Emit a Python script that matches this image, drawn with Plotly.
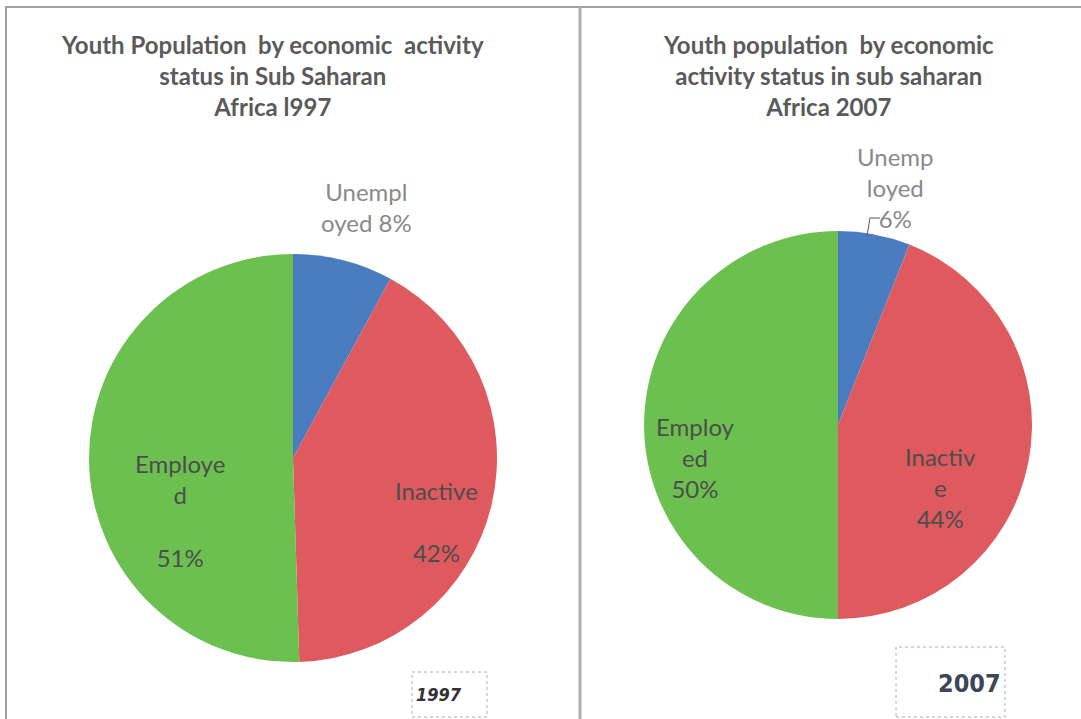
import plotly.graph_objects as go

# ---------------- data ----------------
categories = ["Unemployed", "Inactive", "Employed"]
values_1997 = [8, 42, 51]
values_2007 = [6, 44, 50]
# label text as wrapped in the original chart (percent appended from values)
wrap_1997 = [["Unempl", "oyed {p}%"], ["Inactive", "", "{p}%"], ["Employe", "d", "", "{p}%"]]
wrap_2007 = [["Unemp", "loyed", "{p}%"], ["Inactiv", "e", "{p}%"], ["Employ", "ed", "{p}%"]]
title_1997 = "Youth Population  by economic  activity<br>status in Sub Saharan<br>Africa l997"
title_2007 = "Youth population  by economic<br>activity status in sub saharan<br>Africa 2007"
year_tags = ["1997", "2007"]

colors = ["#4a7cc0", "#df5a5f", "#6cc050"]

W, H = 1081, 719


def px(x, y):
    return x / W, 1 - y / H


def label_text(parts, v):
    return "<br>".join(s.format(p=v) for s in parts)


fig = go.Figure()

fig.add_trace(go.Pie(
    labels=categories, values=values_1997, sort=False, direction="clockwise",
    rotation=0, textinfo="none", marker=dict(colors=colors, line=dict(width=0)),
    domain=dict(x=[89 / W, 497 / W], y=[1 - 662 / H, 1 - 254 / H]),
    showlegend=False, name="1997"))

fig.add_trace(go.Pie(
    labels=categories, values=values_2007, sort=False, direction="clockwise",
    rotation=0, textinfo="none", marker=dict(colors=colors, line=dict(width=0)),
    domain=dict(x=[644 / W, 1032 / W], y=[1 - 619 / H, 1 - 231 / H]),
    showlegend=False, name="2007"))

font_family = "Lato, 'Open Sans', sans-serif"
narrow = "'DejaVu Sans Condensed', 'Liberation Sans Narrow', 'Roboto Condensed', Roboto, sans-serif"
ann = []

# titles
for txt, (cx, cy) in [(title_1997, (272, 76)), (title_2007, (828, 76))]:
    x, y = px(cx, cy)
    ann.append(dict(x=x, y=y, xref="paper", yref="paper", text="<b>" + txt + "</b>",
                    showarrow=False, xanchor="center", yanchor="middle",
                    font=dict(family=font_family, size=24, color="#5a5a5a")))

# slice labels
label_pos_1997 = [(366, 207), (437, 521), (180, 510)]
label_pos_2007 = [(895, 187), (940, 487), (695, 457)]
for wraps, vals, poss in [(wrap_1997, values_1997, label_pos_1997),
                          (wrap_2007, values_2007, label_pos_2007)]:
    for i, (parts, v, (cx, cy)) in enumerate(zip(wraps, vals, poss)):
        x, y = px(cx, cy)
        col = "#8a8a8a" if i == 0 else "#4d4d4d"
        ann.append(dict(x=x, y=y, xref="paper", yref="paper", text=label_text(parts, v),
                        showarrow=False, xanchor="center", yanchor="middle", align="center",
                        font=dict(family=font_family, size=24, color=col)))

# year tags in small boxes
x, y = px(414, 694)
ann.append(dict(x=x, y=y, xref="paper", yref="paper", text="<b><i>" + year_tags[0] + "</i></b>",
                showarrow=False, xanchor="left", yanchor="middle",
                font=dict(family=narrow, size=18, color="#333333")))
x, y = px(1003, 683)
ann.append(dict(x=x, y=y, xref="paper", yref="paper", text="<b>" + year_tags[1] + "</b>",
                showarrow=False, xanchor="right", yanchor="middle",
                font=dict(family=narrow, size=25, color="#3b4656")))

shapes = []
border = dict(color="#a0a0a0", width=2)
# outer frame top / left / divider
shapes.append(dict(type="line", xref="paper", yref="paper",
                   x0=5 / W, x1=1, y0=1 - 7 / H, y1=1 - 7 / H, line=border))
shapes.append(dict(type="line", xref="paper", yref="paper",
                   x0=6 / W, x1=6 / W, y0=1 - 7 / H, y1=0, line=border))
shapes.append(dict(type="line", xref="paper", yref="paper",
                   x0=580 / W, x1=580 / W, y0=1 - 7 / H, y1=0,
                   line=dict(color="#a8b0b0", width=3)))
# small year boxes
box_line = dict(color="#9fb0c8", width=1, dash="dot")
shapes.append(dict(type="rect", xref="paper", yref="paper",
                   x0=412 / W, x1=487 / W, y0=1 - 717 / H, y1=1 - 672 / H, line=box_line))
shapes.append(dict(type="rect", xref="paper", yref="paper",
                   x0=896 / W, x1=1005 / W, y0=1 - 717 / H, y1=1 - 647 / H, line=box_line))
# leader line for 2007 unemployed label
shapes.append(dict(type="path", xref="paper", yref="paper",
                   path="M {:.5f},{:.5f} L {:.5f},{:.5f} L {:.5f},{:.5f}".format(
                       880 / W, 1 - 218 / H, 870 / W, 1 - 218 / H, 867 / W, 1 - 236 / H),
                   line=dict(color="#555555", width=1)))

fig.update_layout(
    width=W, height=H,
    margin=dict(l=0, r=0, t=0, b=0),
    paper_bgcolor="white", plot_bgcolor="white",
    annotations=ann, shapes=shapes,
)

fig.write_html("out.html")
